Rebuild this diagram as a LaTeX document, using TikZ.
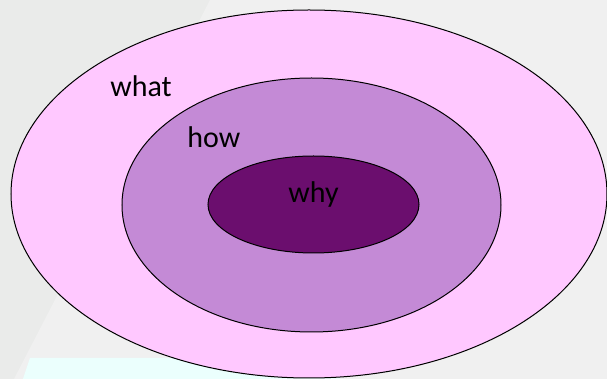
\documentclass[tikz,border=0pt]{standalone}
\usepackage{fontspec}
\setmainfont{Carlito}

\definecolor{bggray}{HTML}{EAEBEA}
\definecolor{bglight}{HTML}{F0F0F0}
\definecolor{bgcyan}{HTML}{EBFFFD}
\definecolor{whatpink}{HTML}{FFC8FF}
\definecolor{howlilac}{HTML}{C48AD6}
\definecolor{whyplum}{HTML}{6B0E6E}

\begin{document}
\begin{tikzpicture}[x=0.5pt,y=-0.5pt,
  ring/.style={draw=black,line width=0.5pt},
  word/.style={inner sep=0pt,anchor=base west,font=\fontsize{15}{18}\selectfont}]

% Backdrop
\fill[bggray] (0,0) rectangle (607,379);
\useasboundingbox (0,0) rectangle (607,379);
\fill[bglight] (210,0) -- (607,0) -- (607,379) -- (14,379) -- cycle;
\fill[bgcyan] (30,358) -- (340,358) -- (340,379) -- (23,379) -- cycle;

% Centres of the three rings
\coordinate (Cwhat) at (309,194);
\coordinate (Chow) at (311.5,205);
\coordinate (Cwhy) at (313.5,204.5);

% Outer ring
\draw[ring,fill=whatpink] (Cwhat) ellipse [x radius=298, y radius=184];

% Middle ring
\draw[ring,fill=howlilac] (Chow) ellipse [x radius=189.5, y radius=127];

% Inner ring
\draw[ring,fill=whyplum] (Cwhy) ellipse [x radius=105.5, y radius=48.5];

% Words
\node[word] (what) at (110,97) {what};
\node[word] (how) at (187,148) {how};
\node[word] (why) at (288,203) {why};

\end{tikzpicture}
\end{document}
